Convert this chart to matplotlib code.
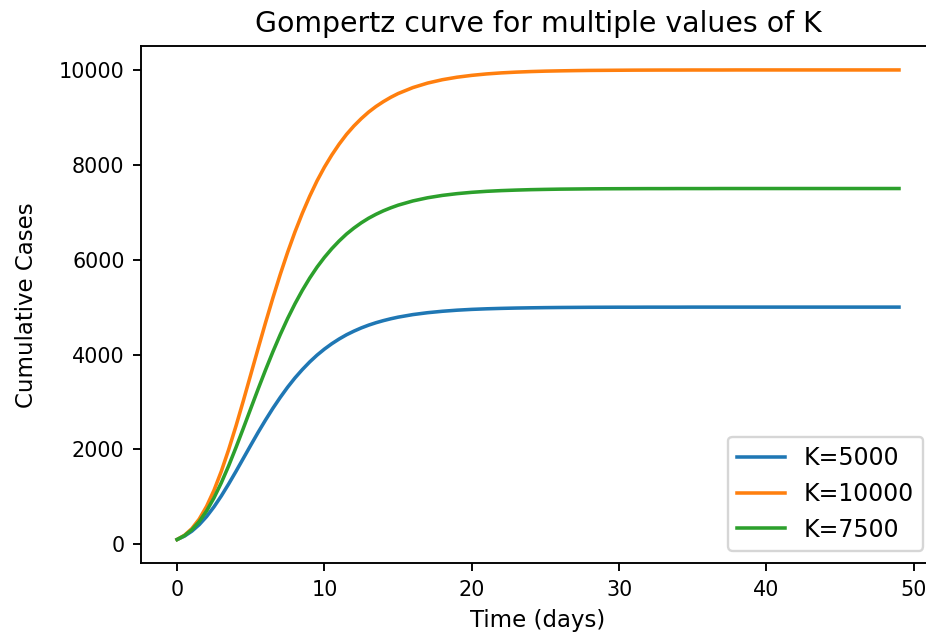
import numpy as np
import matplotlib
import matplotlib.pyplot as plt

matplotlib.use('Agg')

# values: every half day up to day 15, then daily
days = list(np.arange(0, 15, 0.5)) + list(range(15, 50))

cases_5000 = [100, 172, 276, 413, 584, 788, 1019, 1272, 1539, 1814,
              2089, 2360, 2619, 2866, 3096, 3311, 3507, 3683, 3844, 3988,
              4115, 4228, 4328, 4417, 4493, 4561, 4620, 4671, 4715, 4754,
              4788, 4842, 4882, 4912, 4935,
              4952, 4964, 4973, 4980, 4985, 4989, 4992, 4994, 4996, 4997,
              4998, 4998, 4999, 4999, 4999, 5000, 5000, 5000, 5000, 5000,
              5000, 5000, 5000, 5000, 5000, 5000, 5000, 5000, 5000, 5000]

cases_10000 = [100, 190, 330, 531, 799, 1136, 1538, 1997, 2498, 3031,
               3580, 4130, 4671, 5193, 5689, 6155, 6586, 6979, 7338, 7663,
               7951, 8207, 8437, 8642, 8819, 8974, 9112, 9230, 9332, 9423,
               9502, 9628, 9723, 9794, 9847,
               9886, 9916, 9938, 9954, 9966, 9975, 9981, 9986, 9990, 9992,
               9994, 9996, 9997, 9998, 9998, 9999, 9999, 9999, 10000, 10000,
               10000, 10000, 10000, 10000, 10000, 10000, 10000, 10000, 10000, 10000]

cases_7500 = [100, 182, 306, 478, 702, 976, 1297, 1655, 2044, 2450,
              2863, 3274, 3674, 4058, 4420, 4759, 5070, 5354, 5612, 5844,
              6049, 6232, 6395, 6541, 6666, 6777, 6874, 6957, 7030, 7093,
              7149, 7238, 7305, 7355, 7392,
              7420, 7441, 7456, 7467, 7476, 7482, 7487, 7490, 7493, 7495,
              7496, 7497, 7498, 7498, 7499, 7499, 7499, 7500, 7500, 7500,
              7500, 7500, 7500, 7500, 7500, 7500, 7500, 7500, 7500, 7500]

labels = ["K=5000", "K=10000", "K=7500"]

fig = plt.figure(figsize=(926 / 170, 641 / 170), dpi=170)
ax = fig.add_axes([0.1523, 0.1217, 0.8575, 0.8058])

ax.plot(days, cases_5000, label=labels[0])
ax.plot(days, cases_10000, label=labels[1])
ax.plot(days, cases_7500, label=labels[2])

ax.set_title("Gompertz curve for multiple values of K", fontsize=12)
ax.set_xlabel("Time (days)", fontsize=9.7)
ax.set_ylabel("Cumulative Cases", fontsize=9.7, labelpad=9)
ax.tick_params(labelsize=8.8)
ax.legend(loc="lower right", fontsize=10)

fig.savefig("out.png", dpi=170)
